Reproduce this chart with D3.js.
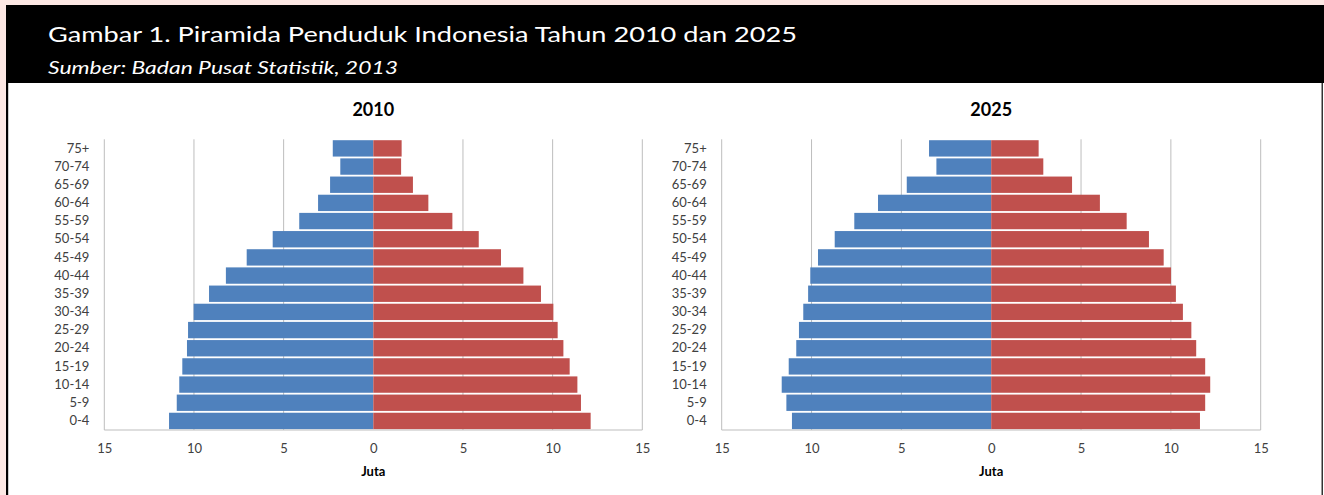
<!DOCTYPE html>
<html>
<head>
<meta charset="utf-8">
<script src="https://cdn.jsdelivr.net/npm/d3@7"></script>
<style>
  html, body { margin: 0; padding: 0; background: #fde8e4; }
  svg { display: block; }
</style>
</head>
<body>
<svg id="chart" width="1324" height="495"></svg>
<script>
// ---- data ----
const ageGroups = ["75+", "70-74", "65-69", "60-64", "55-59", "50-54", "45-49", "40-44",
                   "35-39", "30-34", "25-29", "20-24", "15-19", "10-14", "5-9", "0-4"];
const male2010   = [2.26, 1.84, 2.41, 3.08, 4.13, 5.61, 7.06, 8.22, 9.16, 10.02, 10.33, 10.39, 10.65, 10.82, 10.96, 11.39];
const female2010 = [1.58, 1.55, 2.21, 3.07, 4.41, 5.88, 7.12, 8.37, 9.35, 10.04, 10.28, 10.60, 10.95, 11.38, 11.58, 12.12];
const male2025   = [3.46, 3.05, 4.70, 6.30, 7.62, 8.71, 9.64, 10.07, 10.19, 10.46, 10.70, 10.85, 11.27, 11.66, 11.40, 11.09];
const female2025 = [2.64, 2.90, 4.50, 6.05, 7.54, 8.78, 9.60, 10.01, 10.28, 10.67, 11.14, 11.41, 11.91, 12.19, 11.91, 11.62];
const xTicks = [-15, -10, -5, 0, 5, 10, 15];
const panelTitles = ["2010", "2025"];
const axisLabel = "Juta";
const mainTitle = "Gambar 1. Piramida Penduduk Indonesia Tahun 2010 dan 2025";
const subTitle = "Sumber: Badan Pusat Statistik, 2013";

const svg = d3.select("#chart");
const FONT = "Lato, 'Open Sans', sans-serif";

// frame
svg.append("rect").attr("x", 6).attr("y", 5).attr("width", 1318).attr("height", 490).attr("fill", "#ffffff");
svg.append("rect").attr("x", 6).attr("y", 5).attr("width", 1318).attr("height", 78).attr("fill", "#000000");
svg.append("rect").attr("x", 6).attr("y", 5).attr("width", 2.2).attr("height", 490).attr("fill", "#000000");
svg.append("rect").attr("x", 1321.5).attr("y", 83).attr("width", 1.5).attr("height", 412).attr("fill", "#333333");

svg.append("text").attr("x", 48).attr("y", 42)
  .attr("fill", "#ffffff").attr("font-family", FONT).attr("font-size", 22)
  .attr("textLength", 749).attr("lengthAdjust", "spacingAndGlyphs")
  .text(mainTitle);
svg.append("text").attr("x", 48).attr("y", 74)
  .attr("fill", "#ffffff").attr("font-family", FONT).attr("font-size", 16.5).attr("font-style", "italic")
  .attr("textLength", 350).attr("lengthAdjust", "spacingAndGlyphs")
  .text(subTitle);

const panels = [
  { title: panelTitles[0], male: male2010, female: female2010, x0: 104.3, x1: 642.3 },
  { title: panelTitles[1], male: male2025, female: female2025, x0: 721.7, x1: 1260.7 }
];
const yTop = 139.3, yBot = 430;

panels.forEach(p => {
  const x = d3.scaleLinear().domain([-15, 15]).range([p.x0, p.x1]);
  const y = d3.scaleBand().domain(ageGroups).range([yTop, yBot]).paddingInner(0.1).paddingOuter(0.05);
  const g = svg.append("g");

  // gridlines
  g.selectAll("line.grid").data(xTicks.filter(t => t !== 0)).join("line")
    .attr("class", "grid")
    .attr("x1", d => x(d)).attr("x2", d => x(d))
    .attr("y1", yTop).attr("y2", yBot)
    .attr("stroke", "#bdbdbd").attr("stroke-width", 1);
  // bottom axis line
  g.append("line").attr("x1", x(-15)).attr("x2", x(15)).attr("y1", yBot).attr("y2", yBot)
    .attr("stroke", "#bdbdbd").attr("stroke-width", 1);

  // male bars (left)
  g.selectAll("rect.male").data(ageGroups).join("rect")
    .attr("class", "male")
    .attr("x", (d, i) => x(-p.male[i]))
    .attr("y", d => y(d))
    .attr("width", (d, i) => x(0) - x(-p.male[i]))
    .attr("height", y.bandwidth())
    .attr("fill", "#4f81bd");
  // female bars (right)
  g.selectAll("rect.female").data(ageGroups).join("rect")
    .attr("class", "female")
    .attr("x", x(0))
    .attr("y", d => y(d))
    .attr("width", (d, i) => x(p.female[i]) - x(0))
    .attr("height", y.bandwidth())
    .attr("fill", "#c0504d");

  // x axis
  const xAxis = d3.axisBottom(x).tickValues(xTicks).tickSize(0).tickPadding(0)
    .tickFormat(d => Math.abs(d));
  const ax = g.append("g").attr("transform", `translate(0,${yBot})`).call(xAxis);
  ax.select(".domain").remove();
  ax.selectAll("text").attr("y", 23).attr("dy", 0)
    .attr("font-family", FONT).attr("font-size", 13).attr("fill", "#404040");

  // y axis
  const yAxis = d3.axisLeft(y).tickSize(0).tickPadding(0);
  const ay = g.append("g").attr("transform", `translate(${p.x0 - 15},0)`).call(yAxis);
  ay.select(".domain").remove();
  ay.selectAll("text").attr("font-family", FONT).attr("font-size", 13).attr("fill", "#404040");

  // titles
  g.append("text").attr("x", x(0)).attr("y", 116).attr("text-anchor", "middle")
    .attr("font-family", FONT).attr("font-size", 18).attr("font-weight", "bold").attr("fill", "#000")
    .text(p.title);
  g.append("text").attr("x", x(0)).attr("y", 476).attr("text-anchor", "middle")
    .attr("font-family", FONT).attr("font-size", 13).attr("font-weight", "bold").attr("fill", "#000")
    .text(axisLabel);
});
</script>
</body>
</html>
